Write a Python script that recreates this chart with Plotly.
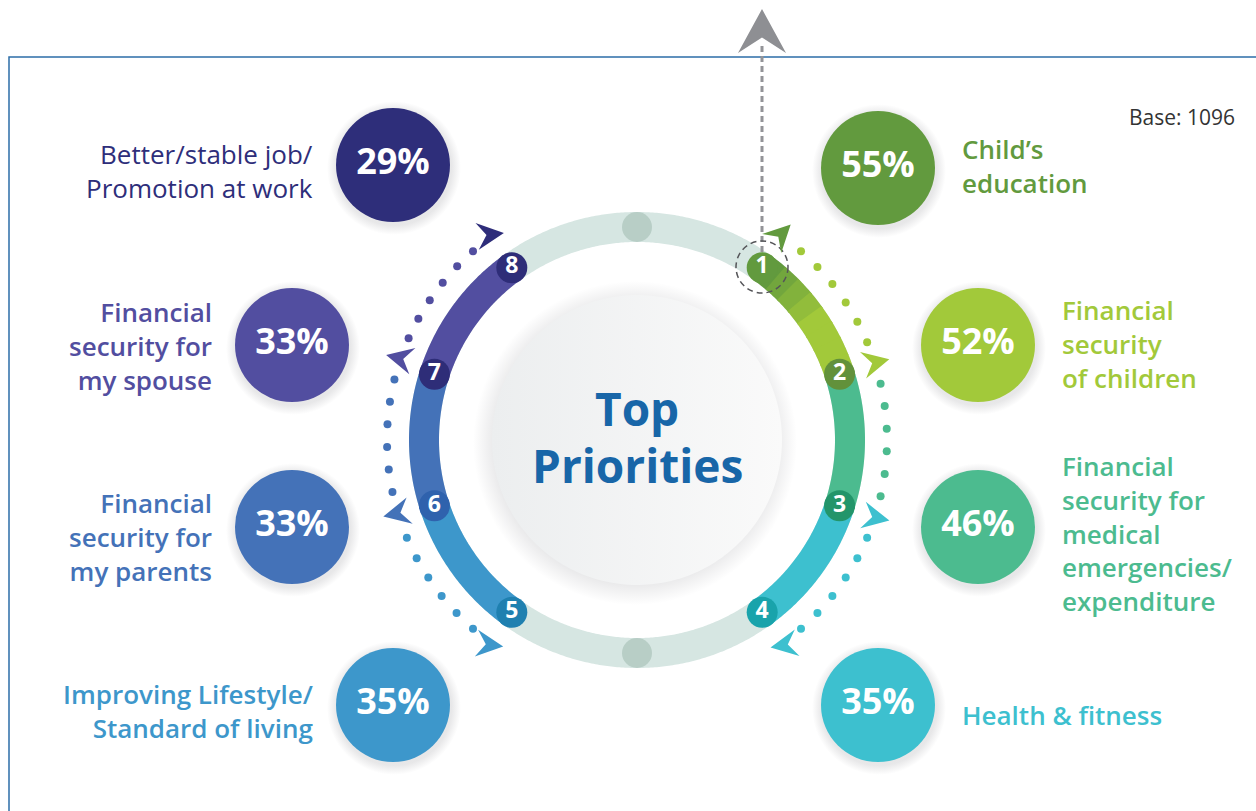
import numpy as np
import plotly.graph_objects as go

# ── Data ───────────────────────────────────────────────────────────
RANKS = [1, 2, 3, 4, 5, 6, 7, 8]
PRIORITIES = [
    "Child’s<br>education",
    "Financial<br>security<br>of children",
    "Financial<br>security for<br>medical<br>emergencies/<br>expenditure",
    "Health & fitness",
    "Improving Lifestyle/<br>Standard of living",
    "Financial<br>security for<br>my parents",
    "Financial<br>security for<br>my spouse",
    "Better/stable job/<br>Promotion at work",
]
SHARES = [55, 52, 46, 35, 35, 33, 33, 29]
BASE = 1096

# ── Styling ────────────────────────────────────────────────────────
W, H = 1256, 811
CX, CY = 637, 440
FONT = "'Open Sans', Lato, sans-serif"

BUBBLE_COLORS = ["#629a3e", "#a2c93a", "#4cbb8f", "#3dc0cf",
                 "#3d97cb", "#4472b8", "#524ea0", "#2e2e7a"]
BADGE_COLORS = ["#629a3e", "#62913b", "#23956a", "#19a3ab",
                "#1f80b0", "#2f62ad", "#2e2d78", "#2e2d78"]
LABEL_WEIGHTS = [600, 600, 600, 600, 600, 600, 600, 400]

# layout of the bubbles: (x, y) in page pixels and label y nudge
BUBBLE_XY = [(878, 168), (978, 345), (978, 527), (878, 705),
             (393, 705), (292, 527), (292, 345), (393, 165)]
LABEL_DY = [-2, -1, 6, 10, 6, 10, 1, 6]

RING_R = 213
DOT_R = 250


def polar(r, deg):
    t = np.radians(deg)
    return CX + r * np.sin(t), CY - r * np.cos(t)


def circle_pts(x, y, r, n=120):
    t = np.linspace(0, 2 * np.pi, n)
    return x + r * np.cos(t), y + r * np.sin(t)


def arrowhead(x, y, direction, length=27, width=27, color="#888"):
    """Notched arrowhead path, tip at (x, y), direction in deg (0=up, cw)."""
    t = np.radians(direction)
    ux, uy = np.sin(t), -np.cos(t)
    px, py = -uy, ux
    bx, by = x - ux * length, y - uy * length
    nx, ny = x - ux * length * 0.65, y - uy * length * 0.65
    pts = [(x, y), (bx + px * width / 2, by + py * width / 2), (nx, ny),
           (bx - px * width / 2, by - py * width / 2)]
    path = "M" + " L".join(f"{a:.1f},{b:.1f}" for a, b in pts) + " Z"
    return dict(type="path", path=path, fillcolor=color, line={"width": 0},
                xref="x", yref="y", layer="above")


def hex_mix(c1, c2, f):
    a = [int(c1[i:i + 2], 16) for i in (1, 3, 5)]
    b = [int(c2[i:i + 2], 16) for i in (1, 3, 5)]
    return "#" + "".join(f"{round(x + (y - x) * f):02x}" for x, y in zip(a, b))


fig = go.Figure()

# ── Soft shadows ───────────────────────────────────────────────────
shadow_scale = [[0, "rgba(60,60,70,0.18)"], [0.86, "rgba(60,60,70,0.12)"],
                [1, "rgba(60,60,70,0)"]]
sx, sy = circle_pts(CX - 2, CY + 3, 162)
fig.add_trace(go.Scatter(x=sx, y=sy, mode="lines", fill="toself", line={"width": 0},
                         fillgradient={"type": "radial", "colorscale": shadow_scale},
                         hoverinfo="skip"))
for bx, by in BUBBLE_XY:
    sx, sy = circle_pts(bx + 1, by + 3, 67)
    fig.add_trace(go.Scatter(x=sx, y=sy, mode="lines", fill="toself", line={"width": 0},
                             fillgradient={"type": "radial", "colorscale": shadow_scale},
                             hoverinfo="skip"))

# centre disc
cx_, cy_ = circle_pts(CX, CY, 145, 240)
fig.add_trace(go.Scatter(x=cx_, y=cy_, mode="lines", fill="toself",
                         line={"width": 0, "simplify": False},
                         fillgradient={"type": "horizontal",
                                       "colorscale": [[0, "#eceeef"], [1, "#fafafa"]]},
                         hoverinfo="skip"))

# ── Ring ───────────────────────────────────────────────────────────
ang = np.linspace(0, 360, 721)
rx, ry = polar(RING_R, ang)
fig.add_trace(go.Scatter(x=rx, y=ry, mode="lines",
                         line={"color": "#d6e6e2", "width": 30, "simplify": False},
                         hoverinfo="skip"))
gx, gy = polar(RING_R, np.array([0, 180]))
fig.add_trace(go.Scatter(x=gx, y=gy, mode="markers",
                         marker={"size": 30, "color": "#b8cec6"}, hoverinfo="skip"))

badge_angles = [36 * r if r <= 4 else 36 * (r + 1) for r in RANKS]

# coloured arcs between consecutive ranks
for i in [0, 1, 2, 4, 5, 6]:
    a0, a1 = badge_angles[i], badge_angles[i + 1]
    if i == 0:
        steps = np.linspace(a0, a1, 9)
        for k in range(8):
            seg = np.linspace(steps[k], steps[k + 1] + 0.6, 12)
            x, y = polar(RING_R, seg)
            fig.add_trace(go.Scatter(
                x=x, y=y, mode="lines", hoverinfo="skip",
                line={"color": hex_mix("#629a3e", "#a2c93a", min(1, k / 4)),
                      "width": 30, "simplify": False}))
        continue
    col = BUBBLE_COLORS[i + 1] if i < 4 else BUBBLE_COLORS[i]
    seg = np.linspace(a0, a1, 80)
    x, y = polar(RING_R, seg)
    fig.add_trace(go.Scatter(x=x, y=y, mode="lines", hoverinfo="skip",
                             line={"color": col, "width": 30, "simplify": False}))

# dotted outer arcs
DOT_SEGMENTS = [(41, 67, "#a2c93a"), (77, 103, "#4cbb8f"), (113, 139, "#3dc0cf"),
                (221, 247, "#3d97cb"), (258, 284, "#4472b8"), (294, 319, "#524ea0")]
for a0, a1, col in DOT_SEGMENTS:
    n = int(round((a1 - a0) / 5.2)) + 1
    x, y = polar(DOT_R, np.linspace(a0, a1, n))
    fig.add_trace(go.Scatter(x=x, y=y, mode="markers", hoverinfo="skip",
                             marker={"size": 8, "color": col}))

# number badges
bx_, by_ = polar(RING_R, np.array(badge_angles))
fig.add_trace(go.Scatter(
    x=bx_, y=by_, mode="markers+text", text=[str(r) for r in RANKS],
    textposition="middle center",
    textfont={"family": FONT, "size": 23, "color": "white", "weight": "bold"},
    marker={"size": 31, "color": BADGE_COLORS}, hoverinfo="skip"))

# ── Bubbles ────────────────────────────────────────────────────────
fig.add_trace(go.Scatter(
    x=[p[0] for p in BUBBLE_XY], y=[p[1] for p in BUBBLE_XY],
    mode="markers+text", text=[f"{v}%" for v in SHARES],
    textposition="middle center",
    textfont={"family": FONT, "size": 36, "color": "white", "weight": "bold"},
    marker={"size": 114, "color": BUBBLE_COLORS, "line": {"width": 0}},
    hoverinfo="skip"))

# ── Decorations ────────────────────────────────────────────────────
shapes = [
    dict(type="rect", x0=9, y0=57, x1=1275, y1=830, line={"color": "#2d6ea8", "width": 1.5},
         layer="below"),
    dict(type="line", x0=762, x1=762, y0=252, y1=46,
         line={"color": "#939498", "width": 3, "dash": "6px,4px"}, layer="above"),
    dict(type="circle", x0=762 - 26, x1=762 + 26, y0=267 - 26, y1=267 + 26,
         line={"color": "#555559", "width": 1.5, "dash": "6px,4px"}, layer="above"),
    arrowhead(762, 9, 0, length=44, width=48, color="#8e8f93"),
]
ARROW_POS = [35, 72, 108, 144.5, 215.6, 253, 289, 324.6]
ARROW_DIR = [45, 77, 102, 260, 97, 257, 283, 83]
ARROW_COLORS = ["#629a3e", "#a2c93a", "#3dc0cf", "#3dc0cf",
                "#3d97cb", "#4472b8", "#524ea0", "#2e2d7a"]
for p, d, c in zip(ARROW_POS, ARROW_DIR, ARROW_COLORS):
    ax, ay = polar(252, p)
    t = np.radians(d)
    tipx, tipy = ax + np.sin(t) * 13, ay - np.cos(t) * 13
    shapes.append(arrowhead(tipx, tipy, d, color=c))

# ── Text ───────────────────────────────────────────────────────────
annotations = []
for i, (bx, by) in enumerate(BUBBLE_XY):
    right = bx > CX
    annotations.append(dict(
        x=bx + 82 if right else bx - 78, y=by + LABEL_DY[i],
        xanchor="left" if right else "right", yanchor="middle",
        align="left" if right else "right", showarrow=False,
        text=PRIORITIES[i],
        font={"family": FONT, "size": 26, "color": BUBBLE_COLORS[i],
              "weight": LABEL_WEIGHTS[i]}))
annotations += [
    dict(x=CX, y=408, text="Top", showarrow=False,
         font={"family": FONT, "size": 46, "color": "#1866a8", "weight": "bold"}),
    dict(x=CX, y=465, text="Priorities", showarrow=False,
         font={"family": FONT, "size": 46, "color": "#1866a8", "weight": "bold"}),
    dict(x=1237, y=117, xanchor="right", text=f"Base: {BASE}", showarrow=False,
         font={"family": FONT, "size": 21, "color": "#333333"}),
]

fig.update_layout(
    width=W, height=H, margin={"l": 0, "r": 0, "t": 0, "b": 0},
    paper_bgcolor="white", plot_bgcolor="white", showlegend=False,
    xaxis={"range": [0, W], "visible": False, "fixedrange": True},
    yaxis={"range": [H, 0], "visible": False, "fixedrange": True},
    shapes=shapes, annotations=annotations,
)

fig.write_html("out.html", config={"displayModeBar": False},
               post_script="document.body.style.margin='0';")
